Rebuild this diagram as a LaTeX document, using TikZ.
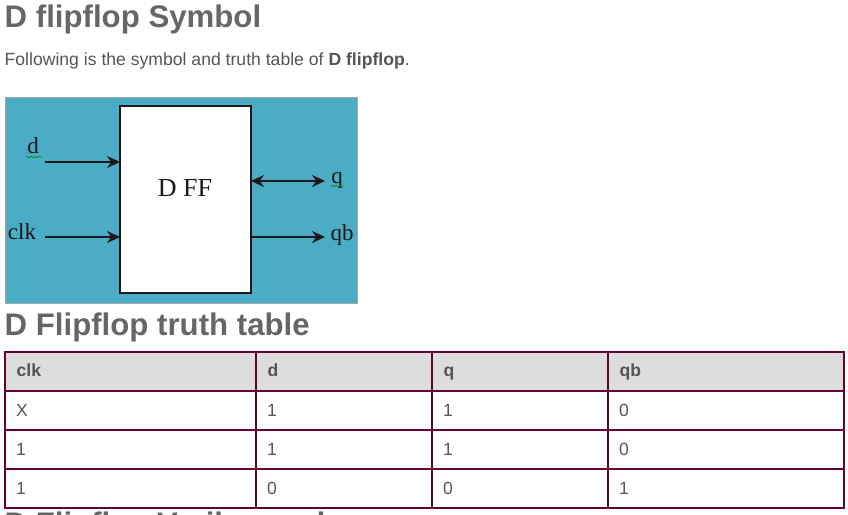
\documentclass[tikz,border=0pt]{standalone}
\usepackage{fontspec}
\setmainfont{Liberation Sans}
\newfontfamily\symbolfont{Liberation Serif}
\usepackage{xcolor}
\usetikzlibrary{positioning, arrows.meta, decorations.pathmorphing}
\definecolor{heading}{HTML}{666666}
\definecolor{bodytext}{HTML}{555555}
\definecolor{panelblue}{HTML}{4BACC6}
\definecolor{panelframe}{HTML}{A6A6A6}
\definecolor{tableline}{HTML}{660033}
\definecolor{headfill}{HTML}{DDDDDD}

\begin{document}
\begin{tikzpicture}[
    x=1pt, y=-1pt,
    >={Stealth[length=13pt,width=12pt]},
    wire/.style={->, line width=1.5pt, black!90},
    biwire/.style={<->, line width=1.5pt, black!90},
    squiggle/.style={draw=green!55!black, line width=0.6pt, decorate, decoration={snake, amplitude=0.8pt, segment length=4pt}},
    title/.style={anchor=base west, inner sep=0pt, text=heading, font=\fontsize{31.2}{33}\selectfont\bfseries},
    para/.style={anchor=base west, inner sep=0pt, text=bodytext, font=\fontsize{17.6}{20}\selectfont},
    pin/.style={anchor=base, inner sep=0pt, text=black!90, font=\fontsize{23}{23}\selectfont\symbolfont},
    cell/.style={anchor=north west, draw=tableline, line width=2pt, inner sep=0pt, outer sep=0pt},
    headcell/.style={cell, fill=headfill},
    entry/.style={anchor=base west, inner sep=0pt, text=bodytext, font=\fontsize{17.6}{20}\selectfont},
    headentry/.style={entry, font=\fontsize{17.6}{20}\selectfont\bfseries}
]
    \useasboundingbox (0,0) rectangle (848,514);
    \clip (0,0) rectangle (848,514);

    % headings and sentence
    \node[title] (symboltitle) at (4.5,27.5) {D flipflop Symbol};
    \node[para] (sentence) at (4.5,65) {Following is the symbol and truth table of \textbf{D flipflop}.};
    \node[title] (tabletitle) at (4.5,335) {D Flipflop truth table};
    \node[title] (codetitle) at (4.5,534) {D Flipflop Verilog code};

    % symbol
    \node[draw=panelframe, fill=panelblue, line width=1pt, anchor=north west, inner sep=0pt, outer sep=0pt,
        minimum width=352pt, minimum height=206pt] (panel) at (5,97) {};
    \node[draw=black!90, fill=white, line width=1.4pt, anchor=north west, inner sep=0pt, outer sep=0pt,
        minimum width=131pt, minimum height=187pt] (dff) at (120,106) {};
    \node[pin, font=\fontsize{26}{26}\selectfont\symbolfont] (dfflabel) at (185,196) {D FF};

    \node[pin] (d) at (33,153) {d};
    \node[pin] (clk) at (22,239) {clk};
    \node[pin] (q) at (337,183) {q};
    \node[pin] (qb) at (342,240) {qb};

    \coordinate (din) at (45,162);
    \coordinate (clkin) at (45,237);
    \coordinate (qout) at (325,181);
    \coordinate (qbout) at (325,237);

    \draw[wire] (din) -- (din -| dff.west);
    \draw[wire] (clkin) -- (clkin -| dff.west);
    \draw[biwire] (qout -| dff.east) -- (qout);
    \draw[wire] (qbout -| dff.east) -- (qbout);

    \draw[squiggle] (26,157) -- (42,157);
    \draw[squiggle] (331,186) -- (343,186);

    % truth table
    \foreach \cx/\cw/\name/\txt in {5/251/clk/clk, 256/176/d/d, 432/176/q/q, 608/236/qb/qb} {
        \node[headcell, minimum width=\cw pt, minimum height=39pt] (head\name) at (\cx,352) {};
        \node[headentry] (label\name) at (\cx+11.5,376.5) {\txt};
    }
    \foreach \ry/\rn/\a/\b/\c/\e in {391/1/X/1/1/0, 430/2/1/1/1/0, 469/3/1/0/0/1} {
        \node[cell, minimum width=251pt, minimum height=39pt] (r\rn a) at (5,\ry) {};
        \node[cell, minimum width=176pt, minimum height=39pt] (r\rn b) at (256,\ry) {};
        \node[cell, minimum width=176pt, minimum height=39pt] (r\rn c) at (432,\ry) {};
        \node[cell, minimum width=236pt, minimum height=39pt] (r\rn e) at (608,\ry) {};
        \node[entry] (t\rn a) at (16,\ry+25.5) {\a};
        \node[entry] (t\rn b) at (267,\ry+25.5) {\b};
        \node[entry] (t\rn c) at (443,\ry+25.5) {\c};
        \node[entry] (t\rn e) at (619,\ry+25.5) {\e};
    }
\end{tikzpicture}
\end{document}
